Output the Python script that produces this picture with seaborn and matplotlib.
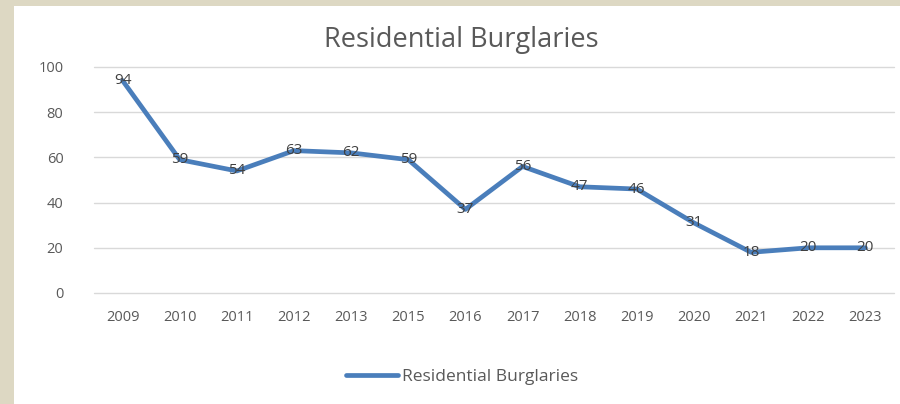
import seaborn as sns
import matplotlib.pyplot as plt
import pandas as pd

years = ["2009", "2010", "2011", "2012", "2013", "2015", "2016",
         "2017", "2018", "2019", "2020", "2021", "2022", "2023"]
burglaries = [94, 59, 54, 63, 62, 59, 37, 56, 47, 46, 31, 18, 20, 20]
series_name = "Residential Burglaries"

df = pd.DataFrame({"Year": years, "Count": burglaries})

sns.set_style("white")
plt.rcParams["font.family"] = ["Open Sans", "DejaVu Sans"]

fig = plt.figure(figsize=(9, 4.04), dpi=100)
fig.patch.set_facecolor("#DDD8C3")
bg = fig.add_axes([14 / 900, 0, 1 - 14 / 900, 1 - 6 / 404], zorder=-1)
bg.set_facecolor("white")
bg.set_xticks([])
bg.set_yticks([])
for s in bg.spines.values():
    s.set_visible(False)

ax = fig.add_axes([94 / 900, 1 - 293 / 404, 800 / 900, 226 / 404], zorder=1)
ax.set_facecolor("none")
x = list(range(len(years)))
sns.lineplot(x=x, y=df["Count"], ax=ax, color="#4A7EBB", linewidth=3.4,
             label=series_name, legend=False)

for xi, v in zip(x, burglaries):
    ax.text(xi, v, str(v), ha="center", va="center", fontsize=11,
            color="#404040")

ax.set_xlim(-0.5, len(years) - 0.5)
ax.set_ylim(0, 100)
ax.set_xticks(x)
ax.set_xticklabels(years)
ax.set_yticks([0, 20, 40, 60, 80, 100])
ax.tick_params(axis="both", length=0, labelsize=10.5, labelcolor="#595959")
ax.tick_params(axis="x", pad=12)
ax.tick_params(axis="y", pad=22)
ax.yaxis.grid(True, color="#D9D9D9", linewidth=1)
for gl in ax.get_ygridlines():
    gl.set_clip_on(False)
ax.set_xlabel("")
ax.set_ylabel("")
for s in ax.spines.values():
    s.set_visible(False)

fig.text(461 / 900, 1 - 40 / 404, series_name, ha="center", va="center",
         fontsize=19.5, color="#595959")

handles, labels = ax.get_legend_handles_labels()
fig.legend(handles, labels, loc="center", bbox_to_anchor=(462 / 900, 1 - 377 / 404),
           frameon=False, fontsize=12.5, labelcolor="#595959",
           handlelength=3.0, handletextpad=0.2)

fig.savefig("out.png", dpi=100)
